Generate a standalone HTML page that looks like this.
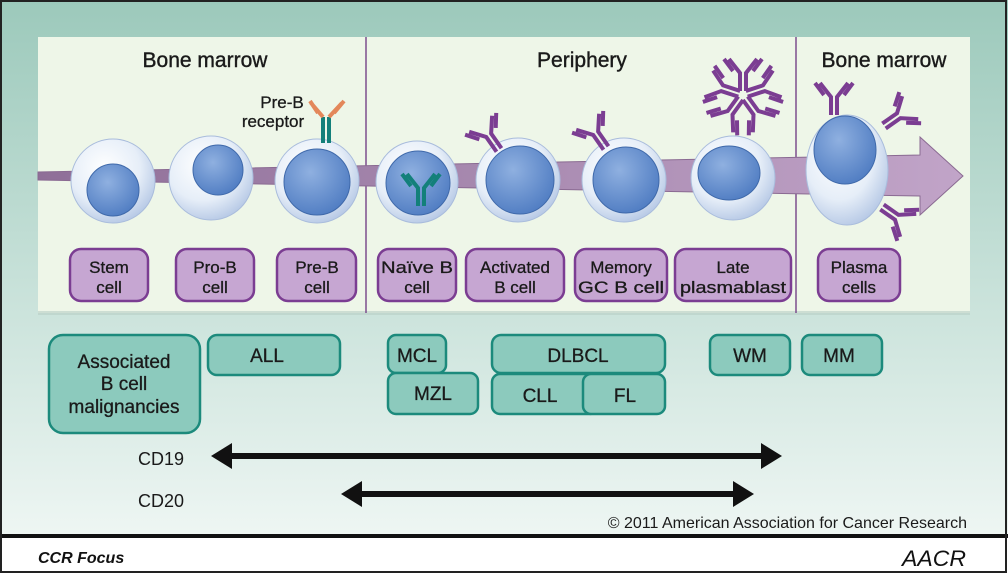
<!DOCTYPE html>
<html><head><meta charset="utf-8"><style>
html,body{margin:0;padding:0;width:1008px;height:574px;overflow:hidden;background:#fff}
svg{display:block}
text{font-family:"Liberation Sans",sans-serif}
</style></head><body>
<svg width="1008" height="574" viewBox="0 0 1008 574" xmlns="http://www.w3.org/2000/svg">
<defs>
<linearGradient id="bg" x1="0" y1="0" x2="0" y2="1">
<stop offset="0" stop-color="#9cc9bb"/><stop offset="0.55" stop-color="#c9e2da"/><stop offset="1" stop-color="#eef6f3"/>
</linearGradient>
<radialGradient id="cell" cx="0.4" cy="0.35" r="0.7">
<stop offset="0" stop-color="#ffffff"/><stop offset="0.6" stop-color="#e6eef8"/><stop offset="1" stop-color="#b3c6e4"/>
</radialGradient>
<radialGradient id="nuc" cx="0.4" cy="0.35" r="0.7">
<stop offset="0" stop-color="#8fb0e0"/><stop offset="1" stop-color="#4f7cc2"/>
</radialGradient>
<linearGradient id="band" x1="0" y1="0" x2="1" y2="0">
<stop offset="0" stop-color="#8f6f98"/><stop offset="1" stop-color="#c1a4c8"/>
</linearGradient>
<g id="ab" fill="none" stroke-linecap="butt" stroke-width="4">
<path d="M-3,0 V-18 L-14,-32 M3,0 V-18 L14,-32 M-10,-20 L-19,-32 M10,-20 L19,-32"/>
</g>
</defs>
<rect x="0" y="0" width="1008" height="536" fill="url(#bg)"/>
<rect x="38" y="37" width="932" height="276" fill="#eef6e8" />
<rect x="38" y="311" width="932" height="4" fill="#b7cfc4" opacity="0.6"/>
<line x1="366" y1="37" x2="366" y2="313" stroke="#7d4e8e" stroke-width="1.5"/>
<line x1="796" y1="37" x2="796" y2="313" stroke="#7d4e8e" stroke-width="1.5"/>
<g font-size="21" text-anchor="middle" fill="#1a1a1a" stroke="#1a1a1a" stroke-width="0.4">
<text x="205" y="67">Bone marrow</text>
<text x="582" y="67">Periphery</text>
<text x="884" y="67">Bone marrow</text>
</g>
<!-- flow band -->
<path d="M38,172 L38,180 L920,196 L920,215 L963,176 L920,137 L920,155 Z" fill="url(#band)" stroke="#8a6a92" stroke-width="1"/>
<!-- cells -->
<g stroke="#a9bcdc" stroke-width="1">
<circle cx="113" cy="181" r="42" fill="url(#cell)"/>
<circle cx="211" cy="178" r="42" fill="url(#cell)"/>
<circle cx="317" cy="181" r="42" fill="url(#cell)"/>
<circle cx="417" cy="182" r="41" fill="url(#cell)"/>
<circle cx="518" cy="180" r="42" fill="url(#cell)"/>
<circle cx="624" cy="180" r="42" fill="url(#cell)"/>
<circle cx="733" cy="178" r="42" fill="url(#cell)"/>
<ellipse cx="847" cy="170" rx="41" ry="55" fill="url(#cell)"/>
</g>
<g fill="url(#nuc)" stroke="#3f69aa" stroke-width="1">
<circle cx="113" cy="190" r="26"/>
<circle cx="218" cy="170" r="25"/>
<circle cx="317" cy="182" r="33"/>
<circle cx="418" cy="183" r="32"/>
<circle cx="520" cy="180" r="34"/>
<circle cx="626" cy="180" r="33"/>
<ellipse cx="729" cy="173" rx="31" ry="27"/>
<ellipse cx="845" cy="150" rx="31" ry="34"/>
</g>
<!-- antibodies -->
<g transform="translate(325,143)">
<path d="M-2,0 V-26 M4,0 V-26" stroke="#13807a" stroke-width="4" fill="none"/>
<path d="M-2,-26 L-14,-40 M4,-26 L17,-40 M-7,-30 L-15,-42 M9,-30 L19,-42" stroke="#e3875a" stroke-width="4" fill="none"/>
</g>
<g transform="translate(421,206)" stroke="#13807a"><use href="#ab"/></g>
<g stroke="#7b3d92">
<use href="#ab" transform="translate(499,150) rotate(-35)"/>
<use href="#ab" transform="translate(606,148) rotate(-35)"/>
<use href="#ab" transform="translate(834,115)"/>
<use href="#ab" transform="translate(884,126) rotate(55)"/>
<use href="#ab" transform="translate(882,207) rotate(125)"/>
<g transform="translate(743,95)">
<use href="#ab" transform="rotate(0) translate(0,-4)"/>
<use href="#ab" transform="rotate(72) translate(0,-4)"/>
<use href="#ab" transform="rotate(144) translate(0,-4)"/>
<use href="#ab" transform="rotate(216) translate(0,-4)"/>
<use href="#ab" transform="rotate(288) translate(0,-4)"/>
</g>
</g>
<g font-size="17" text-anchor="middle" fill="#1a1a1a" stroke="#1a1a1a" stroke-width="0.3">
<text x="282" y="108">Pre-B</text>
<text x="273" y="127">receptor</text>
</g>
<!-- cell labels -->
<g fill="#c6a6d2" stroke="#7b3d92" stroke-width="2.5">
<rect x="70" y="249" width="78" height="52" rx="11"/>
<rect x="176" y="249" width="78" height="52" rx="11"/>
<rect x="277" y="249" width="79" height="52" rx="11"/>
<rect x="378" y="249" width="78" height="52" rx="11"/>
<rect x="466" y="249" width="98" height="52" rx="11"/>
<rect x="575" y="249" width="92" height="52" rx="11"/>
<rect x="675" y="249" width="116" height="52" rx="11"/>
<rect x="818" y="249" width="82" height="52" rx="11"/>
</g>
<g font-size="17" text-anchor="middle" fill="#1a1a1a" stroke="#1a1a1a" stroke-width="0.3">
<text x="109" y="273">Stem</text><text x="109" y="293">cell</text>
<text x="215" y="273">Pro-B</text><text x="215" y="293">cell</text>
<text x="317" y="273">Pre-B</text><text x="317" y="293">cell</text>
<text x="417" y="273" textLength="72" lengthAdjust="spacingAndGlyphs">Naïve B</text><text x="417" y="293">cell</text>
<text x="515" y="273">Activated</text><text x="515" y="293">B cell</text>
<text x="621" y="273" >Memory</text><text x="621" y="293" textLength="86" lengthAdjust="spacingAndGlyphs">GC B cell</text>
<text x="733" y="273">Late</text><text x="733" y="293" textLength="106" lengthAdjust="spacingAndGlyphs">plasmablast</text>
<text x="859" y="273">Plasma</text><text x="859" y="293">cells</text>
</g>
<!-- malignancies -->
<g fill="#8ccabd" stroke="#1c8a7c" stroke-width="2.5">
<rect x="49" y="335" width="151" height="98" rx="14"/>
<rect x="208" y="335" width="132" height="40" rx="9"/>
<rect x="388" y="335" width="58" height="38" rx="8"/>
<rect x="388" y="373" width="90" height="41" rx="8"/>
<rect x="492" y="335" width="173" height="38" rx="9"/>
<rect x="492" y="374" width="106" height="40" rx="8"/>
<rect x="583" y="374" width="82" height="40" rx="8"/>
<rect x="710" y="335" width="80" height="40" rx="8"/>
<rect x="802" y="335" width="80" height="40" rx="8"/>
</g>
<g font-size="19" text-anchor="middle" fill="#1a1a1a" stroke="#1a1a1a" stroke-width="0.3">
<text x="124" y="368">Associated</text><text x="124" y="390">B cell</text><text x="124" y="413">malignancies</text>
<text x="267" y="362">ALL</text>
<text x="417" y="362">MCL</text>
<text x="433" y="400">MZL</text>
<text x="578" y="362">DLBCL</text>
<text x="540" y="402">CLL</text>
<text x="625" y="402">FL</text>
<text x="750" y="362">WM</text>
<text x="839" y="362">MM</text>
</g>
<!-- CD arrows -->
<text x="161" y="465" font-size="18" text-anchor="middle" fill="#1a1a1a">CD19</text>
<text x="161" y="507" font-size="18" text-anchor="middle" fill="#1a1a1a">CD20</text>
<g fill="#111">
<rect x="225" y="453" width="543" height="6"/>
<path d="M211,456 L232,443 L232,469 Z"/><path d="M782,456 L761,443 L761,469 Z"/>
<rect x="354" y="491" width="386" height="6"/>
<path d="M341,494 L362,481 L362,507 Z"/><path d="M754,494 L733,481 L733,507 Z"/>
</g>
<text x="967" y="528" font-size="16" text-anchor="end" fill="#1a1a1a">© 2011 American Association for Cancer Research</text>
<!-- footer -->
<rect x="0" y="536" width="1008" height="38" fill="#fff"/>
<rect x="0" y="534" width="1008" height="4" fill="#111"/>
<text x="38" y="563" font-size="16" font-weight="bold" font-style="italic" fill="#111">CCR Focus</text>
<text x="966" y="566" font-size="22" text-anchor="end" font-family="Liberation Serif" font-style="italic" fill="#111" textLength="64" lengthAdjust="spacingAndGlyphs">AACR</text>
<rect x="1" y="1" width="1005" height="571" fill="none" stroke="#222" stroke-width="2"/>
</svg>
</body></html>
